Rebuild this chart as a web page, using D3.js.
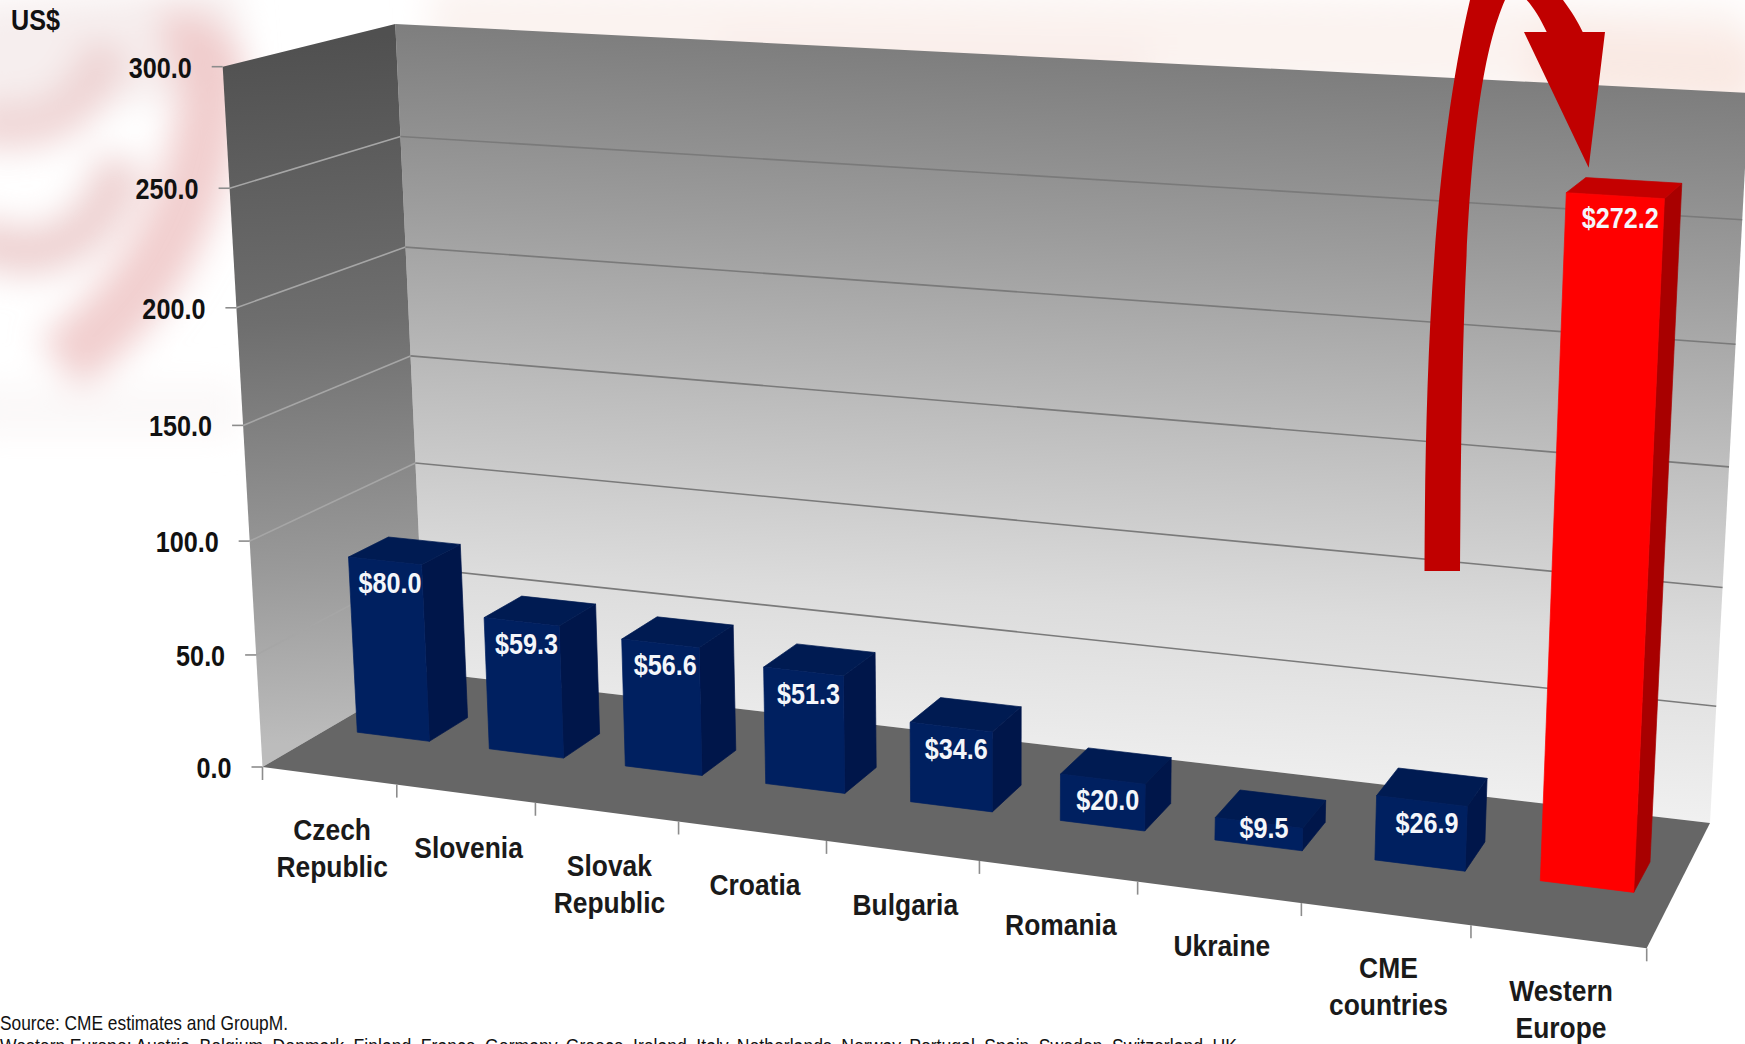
<!DOCTYPE html>
<html>
<head>
<meta charset="utf-8">
<style>
html,body{margin:0;padding:0;background:#fff;overflow:hidden}
text{font-family:"Liberation Sans",Arial,sans-serif}
</style>
<script src="https://cdn.jsdelivr.net/npm/d3@7"></script>
</head>
<body>
<svg id="chart" width="1745" height="1044"></svg>
<script>
// Chart content
const categories = ["Czech Republic","Slovenia","Slovak Republic","Croatia","Bulgaria","Romania","Ukraine","CME countries","Western Europe"];
const categoryLines = [["Czech","Republic"],["Slovenia"],["Slovak","Republic"],["Croatia"],["Bulgaria"],["Romania"],["Ukraine"],["CME","countries"],["Western","Europe"]];
const values = [80.0,59.3,56.6,51.3,34.6,20.0,9.5,26.9,272.2];
const highlighted = ["Western Europe"];
const valueTicks = [0,50,100,150,200,250,300];
const yTitle = "US$";
const sourceLine = "Source: CME estimates and GroupM.";
const noteLine = "Western Europe: Austria, Belgium, Denmark, Finland, France, Germany, Greece, Ireland, Italy, Netherlands, Norway, Portugal, Spain, Sweden, Switzerland, UK";

// Projection of the 3D box: floor and ceiling quads as [front-left, front-right, back-right, back-left]
const floorQuad = [[262.5,767],[1646.7,948.3],[1710,823],[425,672]];
const ceilQuad  = [[222.7,66.7],[1680.7,149.5],[1749,93],[395.3,24]];
const verticalFalloff = 1.05;    // foreshortening of the value axis
const narrow = 0.84, narrowCategory = 0.88;  // horizontal squeeze of the labels

function homography(q){
  const [[x0,y0],[x1,y1],[x2,y2],[x3,y3]] = q;
  const dx1=x1-x2, dx2=x3-x2, sx=x0-x1+x2-x3, dy1=y1-y2, dy2=y3-y2, sy=y0-y1+y2-y3;
  const den=dx1*dy2-dx2*dy1;
  const g=(sx*dy2-sy*dx2)/den, h=(dx1*sy-dy1*sx)/den;
  const a=x1-x0+g*x1, b=x3-x0+h*x3, c=x0, d=y1-y0+g*y1, e=y3-y0+h*y3, f=y0;
  return (u,v)=>{const w=g*u+h*v+1; return [(a*u+b*v+c)/w,(d*u+e*v+f)/w];};
}
const floorAt = homography(floorQuad), ceilAt = homography(ceilQuad);

const heightScale = d3.scaleLinear().domain([0,300]).range([0,1]);
const categoryScale = d3.scaleBand().domain(categories).range([0,1]).paddingInner(0.45).paddingOuter(0.225);
const edgeScale = d3.scaleLinear().domain([0,categories.length]).range([0,1]);
const depthFront = 0.385, depthBack = 0.63;

function project(u,depth,value){
  const p=floorAt(u,depth), q=ceilAt(u,depth), s=heightScale(value);
  const t=s===0?0:s/(s+verticalFalloff*(1-s));
  return [p[0]+(q[0]-p[0])*t, p[1]+(q[1]-p[1])*t];
}
const poly = pts => "M"+pts.map(p=>p[0].toFixed(1)+","+p[1].toFixed(1)).join("L")+"Z";

const svg = d3.select("#chart");
const defs = svg.append("defs");

defs.append("filter").attr("id","soft").attr("filterUnits","userSpaceOnUse")
  .attr("x",-100).attr("y",-100).attr("width",1945).attr("height",700)
  .append("feGaussianBlur").attr("stdDeviation",17);

function ramp(id,x1,y1,x2,y2,stops){
  const g=defs.append("linearGradient").attr("id",id).attr("gradientUnits","userSpaceOnUse")
    .attr("x1",x1).attr("y1",y1).attr("x2",x2).attr("y2",y2);
  stops.forEach(s=>g.append("stop").attr("offset",s[0]).attr("stop-color",s[1]));
}
ramp("backWall",1000,50,960,780,[[0,"#7d7d7d"],[0.25,"#9c9c9c"],[0.5,"#bdbdbd"],[0.75,"#dcdcdc"],[1,"#f0f0f0"]]);
ramp("sideWall",300,40,340,740,[[0,"#505050"],[0.4,"#6e6e6e"],[0.75,"#999999"],[1,"#bcbcbc"]]);

// Faint decorative wash behind the chart
const wash = svg.append("g").attr("filter","url(#soft)").attr("fill","none");
[
  ["M-30,60 L240,40",110,"#f6eeee",1],
  ["M-30,122 C30,135 85,125 108,45",46,"#eccccc",0.8],
  ["M-30,235 C30,270 100,250 122,160",48,"#ebcaca",0.85],
  ["M60,364 C120,320 200,240 212,80 C215,55 190,40 165,45",64,"#efc6c6",0.85],
  ["M-30,410 L240,410",50,"#fbf8f8",1],
  ["M430,30 L1745,50",90,"#fbf3f0",1],
  ["M1530,60 L1760,75",70,"#f9e9e3",1],
  ["M720,60 L1150,70",60,"#f9eeea",1]
].forEach(([d,w,c,o])=>wash.append("path").attr("d",d).attr("stroke-width",w).attr("stroke",c).attr("stroke-opacity",o));

// Walls and floor
const sideCorners = [project(0,0,0),project(0,0,300),project(0,1,300),project(0,1,0)];
const backCorners = [project(0,1,0),project(0,1,300),project(1,1,300),project(1,1,0)];
svg.append("path").attr("d",poly(backCorners)).attr("fill","url(#backWall)");
svg.append("path").attr("d",poly(sideCorners)).attr("fill","url(#sideWall)");

// Gridlines on both walls
valueTicks.filter(v=>v>0&&v<300).forEach(v=>{
  const a=project(0,0,v), b=project(0,1,v), c=project(1,1,v);
  svg.append("path").attr("d",`M${a}L${b}`).attr("stroke","#a6a6a6").attr("stroke-width",1.6).attr("fill","none");
  svg.append("path").attr("d",`M${b}L${c}`).attr("stroke","#7a7a7a").attr("stroke-width",1.6).attr("fill","none");
});

svg.append("path").attr("d",poly([project(0,0,0),project(1,0,0),project(1,1,0),project(0,1,0)])).attr("fill","#666666");

// Labels share one condensed bold style
function label(x,y,str,anchor,fill,squeeze=narrow,size=30,weight="bold"){
  return svg.append("text").attr("transform",`translate(${x},${y}) scale(${squeeze},1)`)
    .attr("text-anchor",anchor).attr("font-size",size).attr("font-weight",weight).attr("fill",fill).text(str);
}

// Value axis
valueTicks.forEach(v=>{
  const a=project(0,0,v);
  svg.append("line").attr("x1",a[0]-11).attr("x2",a[0]).attr("y1",a[1]).attr("y2",a[1]).attr("stroke","#8c8c8c").attr("stroke-width",1.6);
  label(a[0]-31,a[1]+11,v.toFixed(1),"end","#111");
});

// Category axis
d3.range(categories.length+1).forEach(i=>{
  const p=floorAt(edgeScale(i),0);
  svg.append("line").attr("x1",p[0]).attr("x2",p[0]).attr("y1",p[1]).attr("y2",p[1]+13).attr("stroke","#8c8c8c").attr("stroke-width",1.6);
});
categories.forEach((c,i)=>{
  const u=(edgeScale(i)+edgeScale(i+1))/2, p=floorAt(u,0);
  categoryLines[i].forEach((line,k)=>label(p[0]+3,p[1]+64+k*37,line,"middle","#1a1a1a",narrowCategory));
});

// Bars
const barColors = c => highlighted.includes(c)
  ? {front:"#ff0000",side:"#a80000",top:"#c40000"}
  : {front:"#002060",side:"#00164a",top:"#001b52"};
const bars = svg.selectAll("g.bar").data(categories.map((c,i)=>({c,v:values[i]}))).join("g").attr("class","bar");
bars.each(function(d){
  const g=d3.select(this), u0=categoryScale(d.c), u1=u0+categoryScale.bandwidth(), col=barColors(d.c);
  const fl0=project(u0,depthFront,0), fr0=project(u1,depthFront,0), fl1=project(u0,depthFront,d.v), fr1=project(u1,depthFront,d.v);
  const br0=project(u1,depthBack,0), br1=project(u1,depthBack,d.v), bl1=project(u0,depthBack,d.v);
  const face=(pts,c)=>g.append("path").attr("d",poly(pts)).attr("fill",c).attr("stroke",c).attr("stroke-width",0.7).attr("stroke-linejoin","round");
  face([fr0,br0,br1,fr1],col.side);
  face([fl1,fr1,br1,bl1],col.top);
  face([fl0,fr0,fr1,fl1],col.front);
});
// Value captions go on after all bars so no neighbouring face covers them
bars.each(function(d){
  const u0=categoryScale(d.c), u1=u0+categoryScale.bandwidth();
  const fl0=project(u0,depthFront,0), fl1=project(u0,depthFront,d.v), fr1=project(u1,depthFront,d.v);
  const h=fl0[1]-fl1[1], dy=Math.min(21,(h-16)*0.65);
  label((fl1[0]+fr1[0])/2+5,(fl1[1]+fr1[1])/2+dy+11,"$"+d.v.toFixed(1),"middle","#f4f6fa");
});

// Arrow from the CME bars up and over to Western Europe
svg.append("path").attr("fill","#c00000").attr("d",
  "M1424.5,571 C1425,400 1430,170 1470,0 L1563,0 C1572,12 1578,22 1582.7,32 L1605,32 L1588.7,167.7 L1524,32 L1546.7,32 C1540,18 1534,8 1526.7,0 L1505,0 C1470,80 1462,250 1460,571 Z");

// Titles and notes
label(11,30,yTitle,"start","#111");
svg.append("text").attr("x",0).attr("y",1030).attr("font-size",21).attr("fill","#111").attr("textLength",288).attr("lengthAdjust","spacingAndGlyphs").text(sourceLine);
const note = label(0,1053,noteLine,"start","#111",narrow,21,"normal");
// Spread the note by its word gaps so it ends where the footer block ends
const gaps = noteLine.split(" ").length-1;
note.attr("word-spacing",(1237/narrow-note.node().getComputedTextLength())/gaps);
</script>
</body>
</html>
